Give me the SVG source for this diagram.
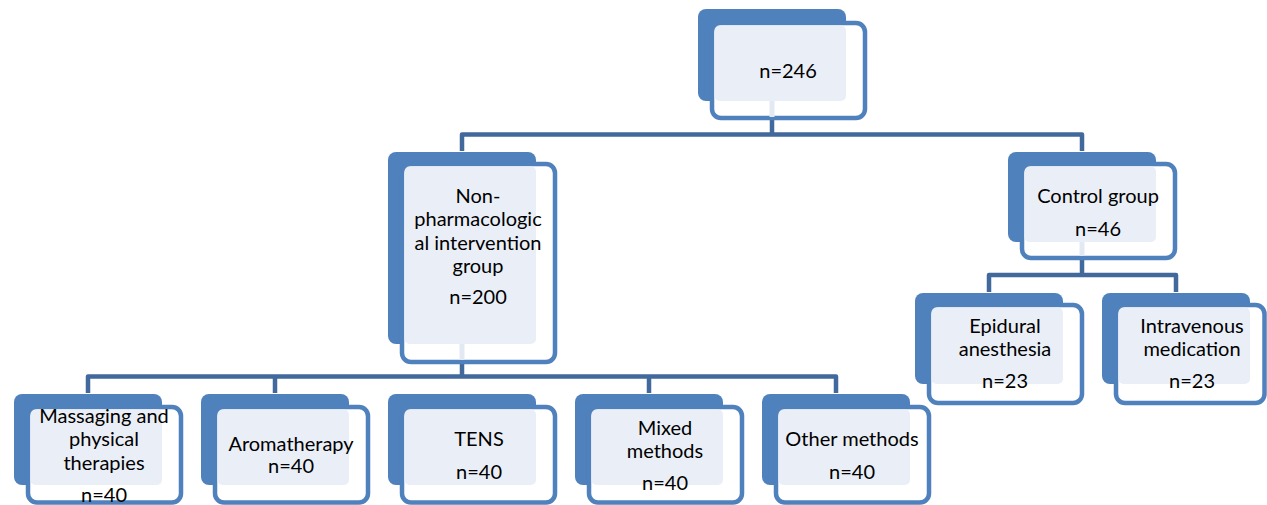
<svg xmlns="http://www.w3.org/2000/svg" width="1267" height="505" viewBox="0 0 1267 505">
<style>
.back{fill:#4f81bd}
.frame{fill:#ffffff;stroke:#4f81bd;stroke-width:4.5}
.light{fill:#eaeff7}
.conn{fill:none;stroke:#41699c;stroke-width:4.5;stroke-linejoin:round}
.stub{fill:none;stroke:#e3e9f2;stroke-width:5}
text{font-family:Lato,"Open Sans","Liberation Sans",sans-serif;font-size:20px;fill:#000;text-anchor:middle}
</style>
<rect width="1267" height="505" fill="#ffffff"/>
<g id="connectors">
<path class="conn" d="M772 120 V134.5 M462 151 V134.5 H1082 V151"/>
<path class="conn" d="M462 364 V376.5 M88 393 V376.5 H836 V393 M275 376.5 V393 M649 376.5 V393"/>
<path class="conn" d="M1082 260 V275 M989 292 V275 H1176 V292"/>
</g>
<g id="n246">
<rect class="back" x="698" y="9" width="148" height="92" rx="8"/>
<rect class="frame" x="712" y="23" width="153" height="95" rx="9"/>
<rect class="light" x="714.5" y="25.5" width="131.5" height="75.5" rx="5"/>
<line class="stub" x1="772" y1="101" x2="772" y2="117"/>
<text x="788" y="78">n=246</text>
</g>
<g id="nonpharm">
<rect class="back" x="388" y="152" width="148" height="192" rx="8"/>
<rect class="frame" x="402" y="164" width="153" height="198" rx="9"/>
<rect class="light" x="404.5" y="166.5" width="131.5" height="177.5" rx="5"/>
<line class="stub" x1="462" y1="344" x2="462" y2="360"/>
<text x="478" y="203">Non-</text>
<text x="478" y="226">pharmacologic</text>
<text x="478" y="250">al intervention</text>
<text x="478" y="273">group</text>
<text x="478" y="304">n=200</text>
</g>
<g id="control">
<rect class="back" x="1008" y="152" width="148" height="90" rx="8"/>
<rect class="frame" x="1022" y="164" width="153" height="94" rx="9"/>
<rect class="light" x="1024.5" y="166.5" width="131.5" height="75.5" rx="5"/>
<line class="stub" x1="1082" y1="242" x2="1082" y2="256"/>
<text x="1098" y="203">Control group</text>
<text x="1098" y="236">n=46</text>
</g>
<g id="epidural">
<rect class="back" x="915" y="293" width="148" height="91" rx="8"/>
<rect class="frame" x="929" y="305" width="153" height="98" rx="9"/>
<rect class="light" x="931.5" y="307.5" width="131.5" height="76.5" rx="5"/>
<text x="1005" y="333">Epidural</text>
<text x="1005" y="356">anesthesia</text>
<text x="1005" y="388">n=23</text>
</g>
<g id="intravenous">
<rect class="back" x="1102" y="293" width="148" height="91" rx="8"/>
<rect class="frame" x="1116" y="305" width="148.5" height="98" rx="9"/>
<rect class="light" x="1118.5" y="307.5" width="131.5" height="76.5" rx="5"/>
<text x="1192" y="333">Intravenous</text>
<text x="1192" y="356">medication</text>
<text x="1192" y="388">n=23</text>
</g>
<g id="massaging">
<rect class="back" x="14" y="394" width="148" height="91" rx="8"/>
<rect class="frame" x="28" y="407" width="153" height="95.5" rx="9"/>
<rect class="light" x="30.5" y="409.5" width="131.5" height="75.5" rx="5"/>
<text x="104" y="423">Massaging and</text>
<text x="104" y="446">physical</text>
<text x="104" y="470">therapies</text>
<text x="104" y="502">n=40</text>
</g>
<g id="aromatherapy">
<rect class="back" x="201" y="394" width="148" height="91" rx="8"/>
<rect class="frame" x="215" y="407" width="153" height="95.5" rx="9"/>
<rect class="light" x="217.5" y="409.5" width="131.5" height="75.5" rx="5"/>
<text x="291" y="451">Aromatherapy</text>
<text x="291" y="473">n=40</text>
</g>
<g id="tens">
<rect class="back" x="388" y="394" width="148" height="91" rx="8"/>
<rect class="frame" x="402" y="407" width="153" height="95.5" rx="9"/>
<rect class="light" x="404.5" y="409.5" width="131.5" height="75.5" rx="5"/>
<text x="479" y="446">TENS</text>
<text x="479" y="479">n=40</text>
</g>
<g id="mixed">
<rect class="back" x="575" y="394" width="148" height="91" rx="8"/>
<rect class="frame" x="589" y="407" width="153" height="95.5" rx="9"/>
<rect class="light" x="591.5" y="409.5" width="131.5" height="75.5" rx="5"/>
<text x="665" y="435">Mixed</text>
<text x="665" y="458">methods</text>
<text x="665" y="490">n=40</text>
</g>
<g id="other">
<rect class="back" x="762" y="394" width="148" height="91" rx="8"/>
<rect class="frame" x="776" y="407" width="153" height="95.5" rx="9"/>
<rect class="light" x="778.5" y="409.5" width="131.5" height="75.5" rx="5"/>
<text x="852" y="446">Other methods</text>
<text x="852" y="479">n=40</text>
</g>
</svg>
